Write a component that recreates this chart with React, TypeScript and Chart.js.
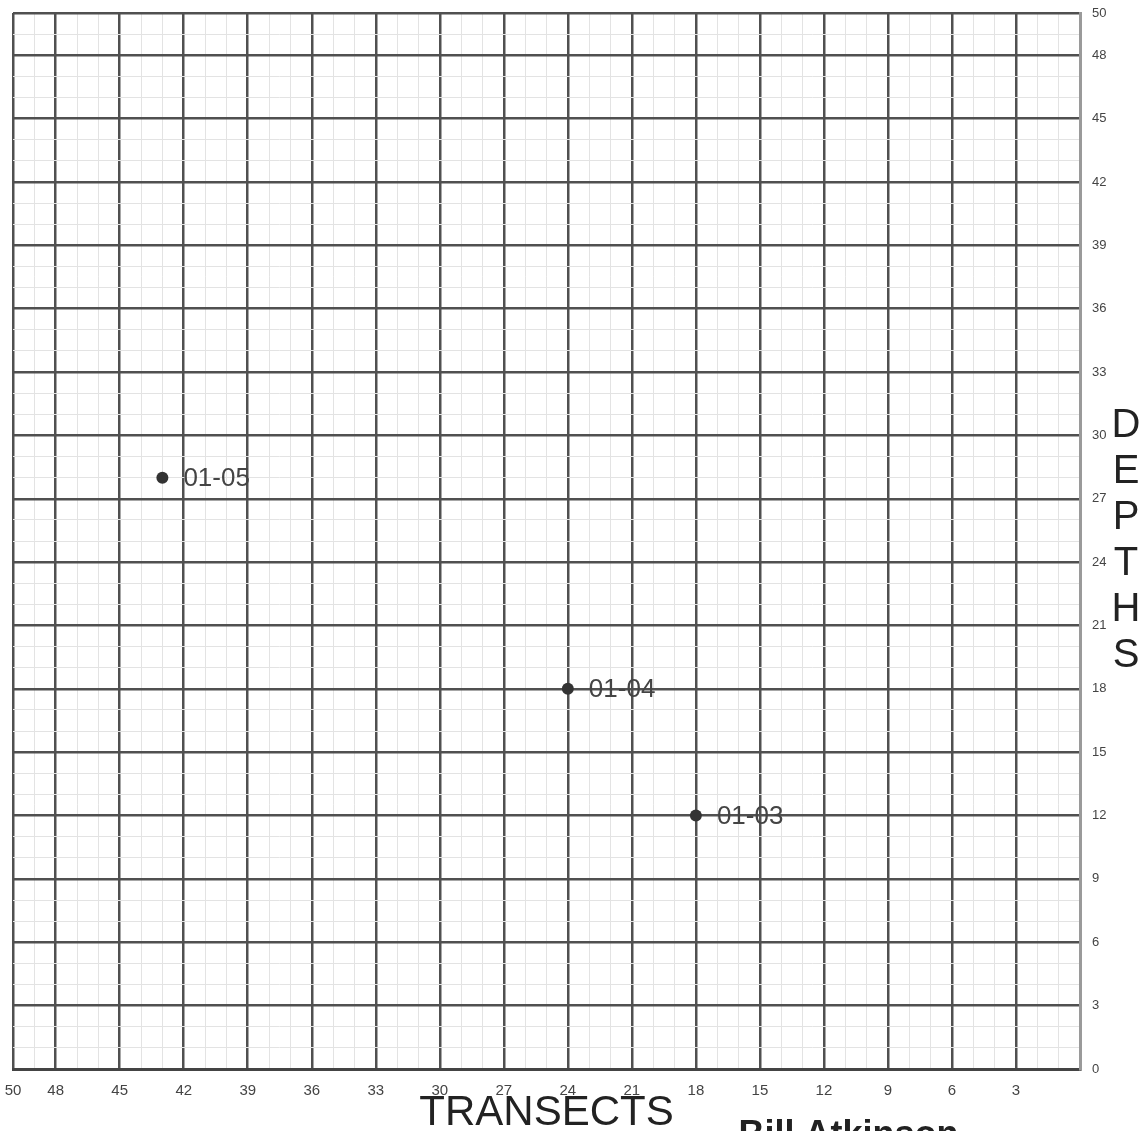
import React, { useEffect, useRef } from "react";
import { Chart, registerables } from "chart.js";

Chart.register(...registerables);

// ---- data ----
const siteLabels = ["01-05", "01-04", "01-03"];
const transects = [43, 24, 18];
const depths = [28, 18, 12];

const xTickLabels = [50, 48, 45, 42, 39, 36, 33, 30, 27, 24, 21, 18, 15, 12, 9, 6, 3];
const yTickLabels = [50, 48, 45, 42, 39, 36, 33, 30, 27, 24, 21, 18, 15, 12, 9, 6, 3, 0];
const gridSteps = Array.from({ length: 51 }, (_, i) => i); // minor grid every unit

const xTitle = "TRANSECTS";
const yTitle = "DEPTHS";
const author = "Bill Atkinson";

const FONT = "'Liberation Sans', Arial, sans-serif";
const MAJOR = "#505050";
const MINOR = "#e3e3e3";

const isMajor = (v: number) => v === 50 || v === 0 || xTickLabels.includes(v) || yTickLabels.includes(v);

const textPlugin = {
  id: "textPlugin",
  beforeDraw(chart: any) {
    const c = chart.ctx;
    c.save();
    c.fillStyle = "#ffffff";
    c.fillRect(0, 0, chart.width, chart.height);
    c.restore();
  },
  afterDraw(chart: any) {
    const c = chart.ctx;
    const a = chart.chartArea;
    c.save();
    // point labels
    const meta = chart.getDatasetMeta(0);
    c.font = `26px ${FONT}`;
    c.fillStyle = "#444444";
    c.textAlign = "left";
    c.textBaseline = "middle";
    meta.data.forEach((pt: any, i: number) => {
      c.fillText(siteLabels[i], pt.x + 21, pt.y + 1);
    });
    // x title
    c.fillStyle = "#222222";
    c.font = `42px ${FONT}`;
    c.textAlign = "center";
    c.textBaseline = "alphabetic";
    c.fillText(xTitle, (a.left + a.right) / 2, a.bottom + 56);
    // y title stacked letters
    c.font = `40px ${FONT}`;
    c.textBaseline = "middle";
    const letters = yTitle.split("");
    const step = 46;
    const midY = (a.top + a.bottom) / 2;
    letters.forEach((ch, i) => {
      c.fillText(ch, a.right + 46, midY + (i - (letters.length - 1) / 2) * step);
    });
    // author (cut off at bottom)
    c.font = `bold 36px ${FONT}`;
    c.textAlign = "left";
    c.textBaseline = "alphabetic";
    c.fillText(author, a.left + (a.right - a.left) * 0.68, a.bottom + 77);
    c.restore();
  },
};

export default function App() {
  const ref = useRef<HTMLCanvasElement | null>(null);

  useEffect(() => {
    if (!ref.current) return;
    const gridOpts = {
      drawTicks: false,
      color: (ctx: any) => (isMajor(ctx.tick?.value) ? MAJOR : MINOR),
      lineWidth: (ctx: any) => (isMajor(ctx.tick?.value) ? 2.5 : 1),
    };
    const chart = new Chart(ref.current, {
      type: "scatter",
      data: {
        datasets: [
          {
            data: transects.map((x, i) => ({ x, y: depths[i] })),
            pointRadius: 6,
            pointBackgroundColor: "#333333",
            pointBorderColor: "#333333",
            pointBorderWidth: 0,
          },
        ],
      },
      options: {
        responsive: false,
        animation: false,
        layout: { padding: { left: 13, top: 13, right: 0, bottom: 0 } },
        plugins: { legend: { display: false }, tooltip: { enabled: false } },
        scales: {
          x: {
            type: "linear",
            reverse: true,
            min: 0,
            max: 50,
            position: "bottom",
            afterBuildTicks: (s: any) => {
              s.ticks = gridSteps.map((v) => ({ value: v }));
            },
            afterFit: (s: any) => {
              s.height = 62;
              s.paddingLeft = 0;
              s.paddingRight = 0;
            },
            ticks: {
              autoSkip: false,
              maxRotation: 0,
              minRotation: 0,
              padding: 13,
              color: "#444444",
              font: { size: 15, family: FONT },
              callback: (v: any) => (xTickLabels.includes(Number(v)) ? String(v) : ""),
            },
            grid: gridOpts,
            border: { display: true, color: "#444444", width: 3 },
          },
          y: {
            type: "linear",
            min: 0,
            max: 50,
            position: "right",
            afterBuildTicks: (s: any) => {
              s.ticks = gridSteps.map((v) => ({ value: v }));
            },
            afterFit: (s: any) => {
              s.width = 63;
              s.paddingTop = 0;
              s.paddingBottom = 0;
            },
            ticks: {
              autoSkip: false,
              padding: 12,
              color: "#444444",
              font: { size: 13, family: FONT },
              callback: (v: any) => (yTickLabels.includes(Number(v)) ? String(v) : ""),
            },
            grid: gridOpts,
            border: { display: true, color: "#9a9a9a", width: 3 },
          },
        },
      } as any,
      plugins: [textPlugin],
    });
    return () => chart.destroy();
  }, []);

  return (
    <div style={{ position: "absolute", left: 0, top: 0, width: 1143, height: 1131, background: "#fff" }}>
      <canvas ref={ref} width={1143} height={1131} style={{ display: "block" }} />
    </div>
  );
}
